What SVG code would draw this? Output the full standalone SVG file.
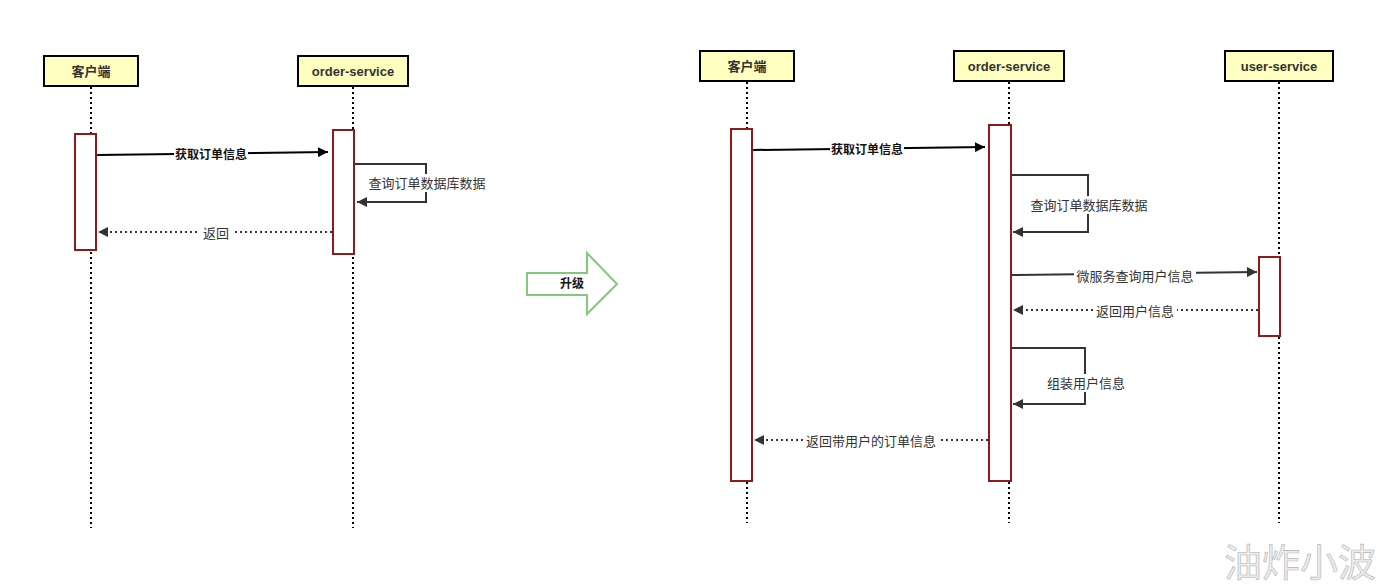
<svg xmlns="http://www.w3.org/2000/svg" width="1385" height="586" viewBox="0 0 1385 586">
<defs>
<marker id="ah" viewBox="0 0 10 10" refX="10" refY="5" markerWidth="14" markerHeight="10" markerUnits="userSpaceOnUse" orient="auto">
<path d="M0,0 L10,5 L0,10 z" fill="#000"/>
</marker>
<marker id="ahg" viewBox="0 0 10 10" refX="10" refY="5" markerWidth="14" markerHeight="10" markerUnits="userSpaceOnUse" orient="auto">
<path d="M0,0 L10,5 L0,10 z" fill="#333"/>
</marker>
</defs>
<style>
text{font-family:"Liberation Sans","Noto Sans CJK SC",sans-serif;text-anchor:middle;dominant-baseline:central}
.hdr{fill:#ffffc0;stroke:#000;stroke-width:2}
.ht{font-size:13px;fill:#333;font-weight:bold}
.life{stroke:#000;stroke-width:2;stroke-dasharray:2 3;fill:none}
.act{fill:#fff;stroke:#8f1a1a;stroke-width:2}
.msg{stroke:#000;stroke-width:2;fill:none;marker-end:url(#ah)}
.self{stroke:#333;stroke-width:2;fill:none;marker-end:url(#ahg)}
.ret{stroke:#333;stroke-width:2;stroke-dasharray:2 3;fill:none;marker-end:url(#ahg)}
.lbl{font-size:13px;fill:#333}
.lblb{font-size:12px;fill:#111;font-weight:bold}
.bg{fill:#fff}
</style>
<rect width="1385" height="586" fill="#fff"/>

<g id="lifelines">
<line class="life" x1="91" y1="87" x2="91" y2="528"/>
<line class="life" x1="353" y1="87" x2="353" y2="528"/>
<line class="life" x1="747" y1="82" x2="747" y2="523"/>
<line class="life" x1="1009" y1="82" x2="1009" y2="523"/>
<line class="life" x1="1279" y1="82" x2="1279" y2="523"/>
</g>

<g id="left-client">
<rect class="hdr" x="44" y="56" width="94" height="30"/>
<text class="ht" x="91" y="71">客户端</text>
<rect class="act" x="75" y="134" width="21" height="116"/>
</g>
<g id="left-order">
<rect class="hdr" x="298" y="56" width="110" height="30"/>
<text class="ht" x="353" y="71">order-service</text>
<rect class="act" x="333" y="130" width="21" height="124"/>
</g>

<g id="upgrade">
<polygon points="527,273 587,273 587,253 617,284 587,314 587,295 527,295" fill="#fff" stroke="#82c97a" stroke-width="2"/>
<text class="lblb" x="572" y="284">升级</text>
</g>

<g id="right-client">
<rect class="hdr" x="700" y="51" width="94" height="30"/>
<text class="ht" x="747" y="66">客户端</text>
<rect class="act" x="731" y="129" width="21" height="352"/>
</g>
<g id="right-order">
<rect class="hdr" x="954" y="51" width="110" height="30"/>
<text class="ht" x="1009" y="66">order-service</text>
<rect class="act" x="989" y="125" width="22" height="356"/>
</g>
<g id="right-user">
<rect class="hdr" x="1225" y="51" width="108" height="30"/>
<text class="ht" x="1279" y="66">user-service</text>
<rect class="act" x="1259" y="257" width="21" height="79"/>
</g>

<g id="connectors">
<line class="msg" x1="97" y1="155" x2="328" y2="152"/>
<rect class="bg" x="174" y="146" width="74" height="17"/>
<text class="lblb" x="211" y="155">获取订单信息</text>

<polyline class="self" points="355,164 426,164 426,202 357,202"/>
<rect class="bg" x="367" y="174" width="120" height="18"/>
<text class="lbl" x="427" y="183">查询订单数据库数据</text>

<line class="ret" x1="332" y1="232" x2="98" y2="232"/>
<rect class="bg" x="200" y="225" width="32" height="16"/>
<text class="lbl" x="216" y="233">返回</text>

<line class="msg" x1="753" y1="150" x2="985" y2="147"/>
<rect class="bg" x="830" y="141" width="74" height="17"/>
<text class="lblb" x="867" y="150">获取订单信息</text>

<polyline class="self" points="1012,175 1088,175 1088,232 1013,232"/>
<rect class="bg" x="1028" y="196" width="122" height="18"/>
<text class="lbl" x="1089" y="205">查询订单数据库数据</text>

<line class="self" x1="1012" y1="275" x2="1257" y2="272"/>
<rect class="bg" x="1074" y="267" width="122" height="18"/>
<text class="lbl" x="1135" y="276">微服务查询用户信息</text>

<line class="ret" x1="1258" y1="310" x2="1013" y2="310"/>
<rect class="bg" x="1093" y="302" width="84" height="18"/>
<text class="lbl" x="1135" y="311">返回用户信息</text>

<polyline class="self" points="1012,348 1085,348 1085,404 1013,404"/>
<rect class="bg" x="1044" y="374" width="84" height="18"/>
<text class="lbl" x="1086" y="383">组装用户信息</text>

<line class="ret" x1="988" y1="440" x2="754" y2="440"/>
<rect class="bg" x="803" y="432" width="136" height="18"/>
<text class="lbl" x="871" y="441">返回带用户的订单信息</text>
</g>

<text x="1300" y="559" style="font-size:38px;fill:#ececec;stroke:#b5b5b5;stroke-width:0.6;font-family:'Noto Sans CJK SC',sans-serif">油炸小波</text>
</svg>
